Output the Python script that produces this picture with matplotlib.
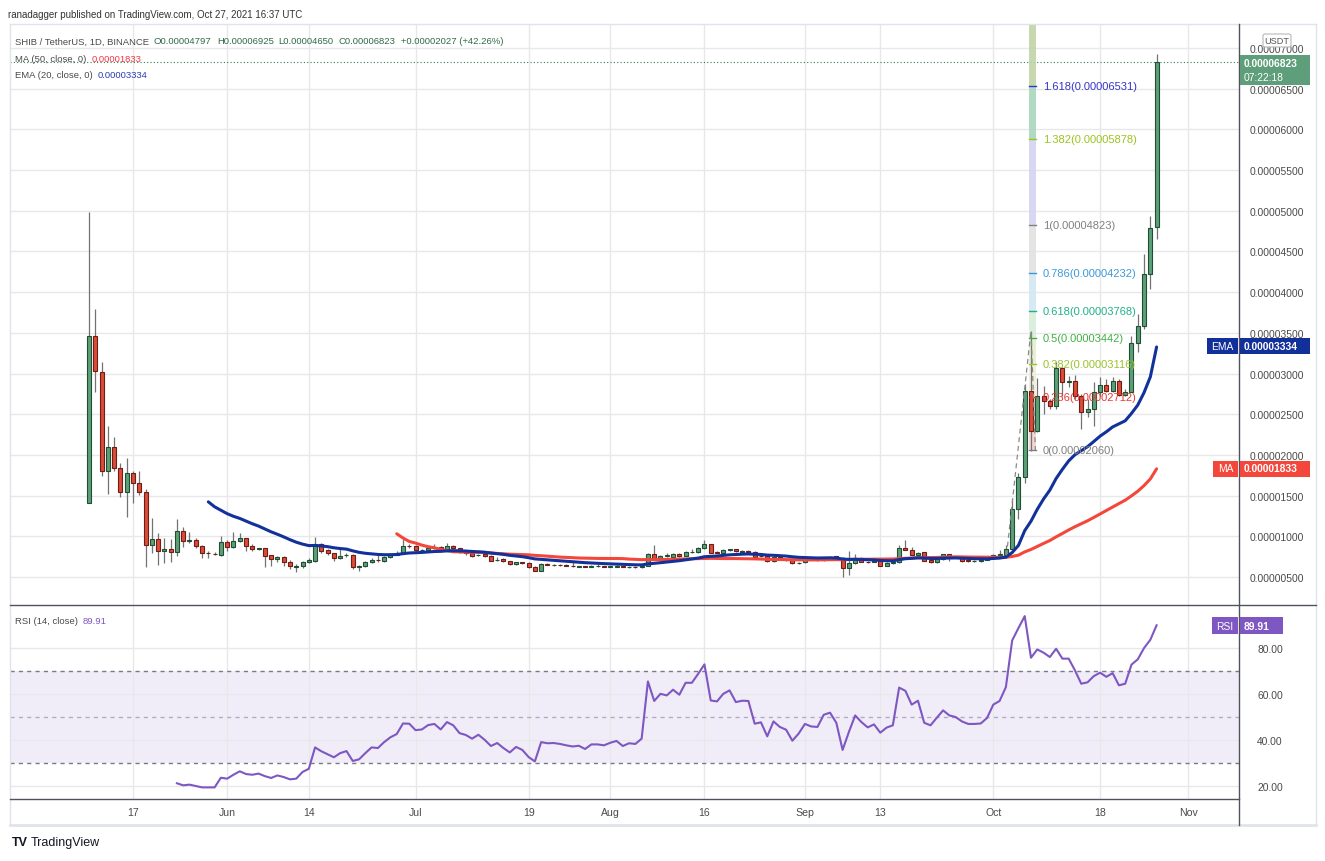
"""SHIB / TetherUS daily chart with MA50, EMA20, fib extension and RSI pane"""
import numpy as np
import pandas as pd
import matplotlib
matplotlib.use('Agg')
import matplotlib.pyplot as plt
from matplotlib.patches import Rectangle, FancyBboxPatch

plt.rcParams['font.family'] = ['Liberation Sans', 'DejaVu Sans']

W, H = 1325, 862

# %% data: daily candles, prices in units of 1e-5 USDT, first bar 2021-05-10
start = pd.Timestamp('2021-05-10')

opens = [1.41, 3.457, 3.02, 1.806, 2.093, 1.835, 1.548, 1.774, 1.651, 1.55,
         0.897, 0.963, 0.815, 0.844, 0.803, 1.061, 0.94, 0.95, 0.877, 0.795,
         0.786, 0.77, 0.926, 0.873, 0.939, 0.975, 0.877, 0.84, 0.853, 0.766,
         0.717, 0.74, 0.69, 0.625, 0.63, 0.68, 0.70, 0.905, 0.83, 0.79,
         0.73, 0.765, 0.775, 0.62, 0.63, 0.68, 0.715, 0.70, 0.742, 0.774,
         0.80, 0.885, 0.877, 0.83, 0.83, 0.86, 0.865, 0.828, 0.877, 0.852,
         0.803, 0.791, 0.770, 0.779, 0.754, 0.708, 0.721, 0.692, 0.655, 0.68,
         0.668, 0.619, 0.578, 0.66, 0.647, 0.652, 0.647, 0.635, 0.628, 0.633,
         0.627, 0.63, 0.632, 0.627, 0.628, 0.634, 0.618, 0.621, 0.624, 0.638,
         0.78, 0.73, 0.76, 0.75, 0.78, 0.762, 0.81, 0.81, 0.852, 0.905,
         0.805, 0.80, 0.832, 0.84, 0.81, 0.815, 0.811, 0.752, 0.754, 0.693,
         0.742, 0.716, 0.71, 0.672, 0.68, 0.716, 0.708, 0.705, 0.742, 0.754,
         0.713, 0.606, 0.668, 0.73, 0.69, 0.69, 0.692, 0.64, 0.67, 0.68,
         0.852, 0.835, 0.774, 0.803, 0.71, 0.68, 0.72, 0.779, 0.75, 0.742,
         0.708, 0.695, 0.695, 0.712, 0.73, 0.77, 0.77, 0.85, 1.34, 1.725,
         2.79, 2.29, 2.72, 2.658, 2.605, 3.068, 2.90, 2.904, 2.728, 2.523,
         2.564, 2.769, 2.859, 2.789, 2.912, 2.74, 2.777, 3.371, 3.588, 4.22,
         4.797]
highs = [4.99, 3.79, 3.14, 2.351, 2.216, 1.897, 1.962, 1.806, 1.798, 1.58,
         1.225, 1.04, 0.975, 0.967, 1.213, 1.11, 1.05, 0.975, 0.897, 0.815,
         0.81, 0.999, 0.95, 1.05, 1.04, 0.98, 0.91, 0.86, 0.86, 0.77,
         0.76, 0.76, 0.71, 0.66, 0.70, 0.73, 0.995, 0.92, 0.84, 0.80,
         0.85, 0.79, 0.78, 0.65, 0.70, 0.73, 0.79, 0.76, 0.79, 0.82,
         0.967, 0.90, 0.89, 0.85, 0.88, 0.90, 0.88, 0.918, 0.89, 0.86,
         0.81, 0.80, 0.785, 0.79, 0.77, 0.74, 0.73, 0.70, 0.69, 0.69,
         0.68, 0.63, 0.675, 0.67, 0.665, 0.66, 0.655, 0.68, 0.64, 0.64,
         0.645, 0.66, 0.64, 0.64, 0.65, 0.64, 0.63, 0.63, 0.65, 0.79,
         0.89, 0.77, 0.79, 0.80, 0.79, 0.815, 0.84, 0.87, 0.95, 0.91,
         0.82, 0.84, 0.85, 0.85, 0.83, 0.83, 0.82, 0.77, 0.76, 0.75,
         0.75, 0.72, 0.72, 0.685, 0.725, 0.725, 0.715, 0.75, 0.755, 0.76,
         0.75, 0.823, 0.78, 0.74, 0.695, 0.70, 0.70, 0.68, 0.69, 0.893,
         0.955, 0.87, 0.81, 0.81, 0.72, 0.725, 0.785, 0.785, 0.76, 0.75,
         0.715, 0.71, 0.72, 0.73, 0.78, 0.83, 0.89, 1.46, 1.78, 2.87,
         3.526, 2.95, 2.85, 2.69, 3.137, 3.076, 2.973, 2.98, 2.75, 2.687,
         2.89, 2.953, 2.932, 2.953, 2.932, 2.81, 3.465, 3.731, 4.47, 4.94,
         6.925]
lows = [1.41, 2.77, 1.744, 1.52, 1.806, 1.487, 1.233, 1.405, 1.511, 0.627,
        0.795, 0.651, 0.668, 0.688, 0.758, 0.873, 0.915, 0.853, 0.733, 0.73,
        0.77, 0.758, 0.823, 0.86, 0.926, 0.823, 0.82, 0.83, 0.627, 0.64,
        0.69, 0.64, 0.60, 0.56, 0.61, 0.67, 0.69, 0.80, 0.77, 0.70,
        0.72, 0.75, 0.60, 0.57, 0.62, 0.67, 0.69, 0.69, 0.73, 0.77,
        0.79, 0.86, 0.82, 0.82, 0.82, 0.85, 0.82, 0.82, 0.845, 0.79,
        0.775, 0.75, 0.76, 0.745, 0.695, 0.70, 0.68, 0.65, 0.65, 0.66,
        0.61, 0.57, 0.575, 0.645, 0.635, 0.64, 0.63, 0.625, 0.62, 0.62,
        0.62, 0.625, 0.62, 0.62, 0.62, 0.62, 0.61, 0.61, 0.615, 0.63,
        0.725, 0.72, 0.75, 0.745, 0.75, 0.755, 0.80, 0.80, 0.845, 0.79,
        0.79, 0.79, 0.82, 0.81, 0.80, 0.80, 0.735, 0.745, 0.685, 0.69,
        0.71, 0.70, 0.655, 0.665, 0.675, 0.705, 0.70, 0.70, 0.735, 0.705,
        0.504, 0.53, 0.66, 0.685, 0.67, 0.68, 0.635, 0.635, 0.665, 0.675,
        0.83, 0.77, 0.765, 0.695, 0.675, 0.675, 0.715, 0.70, 0.735, 0.69,
        0.69, 0.69, 0.69, 0.705, 0.72, 0.76, 0.76, 0.84, 1.21, 1.66,
        2.05, 2.28, 2.50, 2.564, 2.564, 2.728, 2.83, 2.687, 2.318, 2.462,
        2.359, 2.728, 2.769, 2.769, 2.728, 2.728, 2.769, 3.268, 3.55, 4.04,
        4.65]
closes = [3.457, 3.03, 1.806, 2.093, 1.835, 1.548, 1.774, 1.651, 1.548, 0.897,
          0.963, 0.815, 0.844, 0.803, 1.061, 0.939, 0.95, 0.877, 0.791, 0.789,
          0.781, 0.926, 0.873, 0.939, 0.975, 0.877, 0.84, 0.853, 0.758, 0.717,
          0.74, 0.69, 0.63, 0.635, 0.68, 0.71, 0.905, 0.823, 0.79, 0.73,
          0.76, 0.775, 0.62, 0.63, 0.68, 0.715, 0.71, 0.742, 0.774, 0.80,
          0.885, 0.875, 0.83, 0.835, 0.86, 0.87, 0.832, 0.877, 0.852, 0.803,
          0.791, 0.762, 0.775, 0.754, 0.701, 0.713, 0.692, 0.655, 0.68, 0.672,
          0.619, 0.578, 0.66, 0.65, 0.65, 0.645, 0.635, 0.63, 0.633, 0.624,
          0.633, 0.634, 0.627, 0.634, 0.64, 0.627, 0.621, 0.618, 0.64, 0.78,
          0.73, 0.754, 0.765, 0.78, 0.762, 0.81, 0.812, 0.852, 0.905, 0.80,
          0.80, 0.83, 0.84, 0.82, 0.815, 0.807, 0.742, 0.757, 0.693, 0.742,
          0.72, 0.71, 0.667, 0.676, 0.717, 0.712, 0.705, 0.742, 0.745, 0.713,
          0.606, 0.668, 0.73, 0.69, 0.68, 0.692, 0.64, 0.67, 0.684, 0.852,
          0.835, 0.774, 0.80, 0.701, 0.68, 0.72, 0.779, 0.742, 0.745, 0.70,
          0.695, 0.70, 0.714, 0.716, 0.77, 0.78, 0.85, 1.34, 1.725, 2.79,
          2.29, 2.72, 2.658, 2.605, 3.068, 2.89, 2.91, 2.728, 2.523, 2.564,
          2.769, 2.859, 2.789, 2.912, 2.74, 2.777, 3.371, 3.588, 4.22, 4.787,
          6.823]

rsi_start = 14
rsi = [21.2, 20.3, 20.6, 20.0, 19.4, 19.4, 19.4, 23.6, 23.2, 24.9,
       26.4, 25.2, 24.9, 25.4, 24.3, 23.5, 24.6, 23.9, 22.9, 23.2,
       26.1, 27.5, 36.8, 35.1, 33.8, 32.5, 34.3, 35.2, 30.9, 31.6,
       34.3, 36.8, 36.5, 39.1, 41.2, 42.6, 47.2, 47.1, 44.3, 44.6,
       46.5, 47.0, 44.6, 47.8, 46.4, 43.0, 42.2, 40.6, 42.3, 40.1,
       37.4, 38.7, 36.5, 34.6, 37.0, 35.7, 32.6, 30.7, 39.1, 38.6,
       38.7, 38.3, 37.7, 37.2, 37.5, 36.1, 38.1, 38.1, 37.7, 38.8,
       39.6, 37.4, 38.6, 38.3, 40.6, 65.5, 57.0, 60.1,
       59.4, 61.9, 59.7, 64.9, 64.9, 68.8, 72.9, 57.2, 56.8, 60.1,
       61.6, 56.5, 57.1, 57.0, 47.1, 47.7, 41.6, 48.1, 45.7, 44.5,
       39.7, 42.8, 47.0, 45.9, 45.7, 51.0, 51.9, 47.5, 35.7, 43.5,
       50.7, 47.8, 45.5, 46.8, 43.2, 45.4, 46.4, 62.8, 61.4, 55.4,
       57.1, 47.5, 46.4, 49.7, 52.9, 50.7, 50.0, 48.1, 47.0, 47.0,
       47.2, 49.6, 55.4, 57.0, 63.0, 83.3, 88.7, 93.9, 75.8, 79.4,
       78.0, 76.1, 79.7, 75.4, 75.4, 70.3, 64.5, 65.1, 67.8, 69.3,
       67.5, 69.1, 63.8, 64.5, 72.8, 75.1, 80.0, 83.6, 89.91]

tick_dates = ['2021-05-17', '2021-06-01', '2021-06-14', '2021-07-01', '2021-07-19', '2021-08-01',
              '2021-08-16', '2021-09-01', '2021-09-13', '2021-10-01', '2021-10-18', '2021-11-01']
tick_labels = ['17', 'Jun', '14', 'Jul', '19', 'Aug', '16', 'Sep', '13', 'Oct', '18', 'Nov']
price_ticks = [0.5, 1.0, 1.5, 2.0, 2.5, 3.0, 3.5, 4.0, 4.5, 5.0, 5.5, 6.0, 6.5, 7.0]
rsi_ticks = [20, 40, 60, 80]

# fib extension drawn from A (low before the breakout) -> B (Oct 7 high) -> C (pullback low)
fib_ratios = ['0', '0.236', '0.382', '0.5', '0.618', '0.786', '1', '1.382', '1.618']
fib_prices = [2.060, 2.712, 3.116, 3.442, 3.768, 4.232, 4.823, 5.878, 6.531]
fib_points = [(146.1, 0.767), (150.0, 3.526), (150.7, 2.060)]

ma_label, ema_label, rsi_label = '0.00001833', '0.00003334', '89.91'
ma_last, ema_last = 1.833, 3.334

# %% derived series
n = len(closes)
x = np.arange(n)
cl = pd.Series(closes)
ma50 = cl.rolling(50).mean()
ema20 = np.full(n, np.nan)
ema20[19] = cl[:20].mean()
alpha = 2 / 21
for i in range(20, n):
    ema20[i] = alpha * closes[i] + (1 - alpha) * ema20[i - 1]
tick_pos = [(pd.Timestamp(d) - start).days for d in tick_dates]

# %% layout (pixels)
L, R = 10, 1239
T1, B1 = 25, 606
T2, B2 = 607, 800
PXD = 6.28          # pixels per day
X0 = 89             # pixel of first bar

fig = plt.figure(figsize=(W / 100, H / 100), dpi=100)
fig.patch.set_facecolor('white')
ax = fig.add_axes([L / W, (H - B1) / H, (R - L) / W, (B1 - T1) / H])
ax2 = fig.add_axes([L / W, (H - B2) / H, (R - L) / W, (B2 - T2) / H])
xlim = ((L - X0) / PXD, (R - X0) / PXD)

grid_c = '#e8e8ea'
for a in (ax, ax2):
    a.set_xlim(*xlim)
    for s in a.spines.values():
        s.set_visible(False)
    a.set_xticks(tick_pos)
    a.grid(True, color=grid_c, lw=1)
    a.set_axisbelow(True)
    a.yaxis.tick_right()
    a.tick_params(length=0, labelsize=7.4, colors='#4a4a4a')

# main pane
ax.set_ylim(0.156, 7.294)
ax.set_yticks(price_ticks)
ax.set_yticklabels([f'{v * 1e-5:.8f}' for v in price_ticks])
ax.tick_params(axis='y', pad=8)
ax.tick_params(axis='x', labelbottom=False)

up = np.array(closes) >= np.array(opens)
ax.vlines(x, lows, highs, color='#737373', lw=0.9, zorder=2)
body_lo = np.minimum(opens, closes)
body_h = np.abs(np.array(closes) - np.array(opens))
ax.bar(x[up], body_h[up], bottom=body_lo[up], width=0.64, color='#5e9f78',
       edgecolor='#1f4f33', lw=0.8, zorder=3)
ax.bar(x[~up], body_h[~up], bottom=body_lo[~up], width=0.64, color='#dd4b39',
       edgecolor='#6e1e14', lw=0.8, zorder=3)

ax.plot(x, ma50, color='#f4473b', lw=2.2, zorder=4, solid_capstyle='round')
ax.plot(x, ema20, color='#12319a', lw=2.2, zorder=4, solid_capstyle='round')
ax.axhline(closes[-1], color='#2e7d4f', lw=0.8, ls=(0, (1, 2)), zorder=1)

# fib extension band
band_fill = ['#f2d2d1', '#efeed8', '#e3efcf', '#d6eed9', '#d2e7f3', '#e2e2e2', '#d4d4f1', '#a9d6bd', '#c1d3a7']
fib_cols = ['#808080', '#e53935', '#9cc22e', '#43b043', '#22b08a', '#3d9ad6', '#808080', '#9cc31e', '#3535c8']
bx0, bx1 = 149.7, 150.8
levels = fib_prices + [7.294]
for i in range(len(fib_prices)):
    ax.add_patch(Rectangle((bx0, levels[i]), bx1 - bx0, levels[i + 1] - levels[i],
                           facecolor=band_fill[i], edgecolor='none', zorder=1.5, alpha=0.9))
    ax.plot([bx0, bx1], [fib_prices[i], fib_prices[i]], color=fib_cols[i], lw=1, zorder=5)
    ax.text(151.9, fib_prices[i], f'{fib_ratios[i]}({fib_prices[i] * 1e-5:.8f})',
            color=fib_cols[i], fontsize=8, va='center', ha='left', zorder=6)
fx, fy = zip(*fib_points)
ax.plot(fx, fy, color='#8a8a8a', lw=0.9, ls=(0, (4, 3)), zorder=5)

# RSI pane
ax2.set_ylim(14.35, 98.3)
ax2.set_yticks(rsi_ticks)
ax2.set_yticklabels([f'{v:.2f}' for v in rsi_ticks])
ax2.tick_params(axis='y', pad=13)
ax2.set_xticklabels(tick_labels)
ax2.tick_params(axis='x', pad=6, labelsize=7.6)
ax2.axhspan(30, 70, color='#7e57c2', alpha=0.1, lw=0, zorder=0)
ax2.axhline(70, color='#787b86', lw=1, ls=(0, (3, 3)))
ax2.axhline(30, color='#787b86', lw=1, ls=(0, (3, 3)))
ax2.axhline(50, color='#b3abc4', lw=1, ls=(0, (3, 3)))
ax2.plot(np.arange(rsi_start, rsi_start + len(rsi)), rsi, color='#7e57c2', lw=1.5, zorder=4)

# %% overlay in pixel coordinates
ov = fig.add_axes([0, 0, 1, 1])
ov.set_xlim(0, W)
ov.set_ylim(H, 0)
ov.axis('off')
renderer = fig.canvas.get_renderer()


def ypix(a, v):
    return H - a.transData.transform((0, v))[1]


def chain(x0, y, parts, size=6.8, gap=5):
    """write (text, colour) pieces one after another on a line"""
    xp = x0
    for s, c in parts:
        t = ov.text(xp, y, s, fontsize=size, color=c, va='center')
        xp += t.get_window_extent(renderer=renderer).width + gap


frame_c = '#e0e3eb'
ov.plot([L, 1316], [T1, T1], color=frame_c, lw=1)
ov.plot([L, L], [T1, 826], color=frame_c, lw=1)
ov.plot([1316, 1316], [T1, 826], color=frame_c, lw=1)
ov.plot([L, 1316], [826, 826], color=frame_c, lw=2)
ov.plot([R, R], [T1, 826], color='#50535e', lw=1)
ov.plot([L, 1316], [B1, B1], color='#50535e', lw=1)
ov.plot([L, R], [B2, B2], color='#50535e', lw=1)

ov.text(8, 15, 'ranadagger published on TradingView.com, Oct 27, 2021 16:37 UTC',
        fontsize=7.0, color='#333333', va='center')
txt_c, ohlc_c = '#4a4a4a', '#2f6b47'
chain(15, 42, [('SHIB / TetherUS, 1D, BINANCE', txt_c), ('O0.00004797', ohlc_c),
               ('H0.00006925', ohlc_c), ('L0.00004650', ohlc_c), ('C0.00006823', ohlc_c),
               ('+0.00002027 (+42.26%)', ohlc_c)])
chain(15, 59, [('MA (50, close, 0)', txt_c), (ma_label, '#f23645')])
chain(15, 75, [('EMA (20, close, 0)', txt_c), (ema_label, '#2a3db0')])
chain(15, 622, [('RSI (14, close)', txt_c), (rsi_label, '#7e57c2')])

# USDT tag
ov.add_patch(FancyBboxPatch((1263, 35), 28, 13, boxstyle='round,pad=0,rounding_size=2',
                            facecolor='white', edgecolor='#b8b8b8', lw=0.8, zorder=5))
ov.text(1277, 41.5, 'USDT', fontsize=6.6, color='#555555', ha='center', va='center', zorder=6)

# last price badge
yc = ypix(ax, closes[-1])
ov.add_patch(Rectangle((1240, yc - 7), 70, 30, facecolor='#5e9e7a', edgecolor='none', zorder=5))
ov.text(1244, yc + 1, f'{closes[-1] * 1e-5:.8f}', fontsize=7.4, color='white', weight='bold',
        va='center', zorder=6)
ov.text(1244, yc + 15, '07:22:18', fontsize=7.4, color='white', va='center', zorder=6)

# indicator badges
for val, txt, lab, col, lx in [(ema_last, ema_label, 'EMA', '#12309a', 1207),
                               (ma_last, ma_label, 'MA', '#f4473b', 1213)]:
    yb = ypix(ax, val)
    ov.add_patch(Rectangle((lx, yb - 8), 1238 - lx, 16, facecolor=col, edgecolor='none', zorder=5))
    ov.add_patch(Rectangle((1240, yb - 8), 70, 16, facecolor=col, edgecolor='none', zorder=5))
    ov.text((lx + 1238) / 2, yb, lab, fontsize=7.4, color='white', ha='center', va='center', zorder=6)
    ov.text(1244, yb, txt, fontsize=7.4, color='white', weight='bold', va='center', zorder=6)

yr = ypix(ax2, rsi[-1])
ov.add_patch(Rectangle((1212, yr - 8), 26, 17, facecolor='#7e57c2', edgecolor='none', zorder=5))
ov.add_patch(Rectangle((1240, yr - 8), 43, 17, facecolor='#7e57c2', edgecolor='none', zorder=5))
ov.text(1225, yr + 0.5, 'RSI', fontsize=7.4, color='white', ha='center', va='center', zorder=6)
ov.text(1244, yr + 0.5, rsi_label, fontsize=7.4, color='white', weight='bold', va='center', zorder=6)

# footer logo
ov.text(12, 843, 'TV', fontsize=9, color='#131722', weight='bold', va='center')
ov.text(31, 843, 'TradingView', fontsize=9, color='#131722', va='center')

fig.savefig('out.png', dpi=100, facecolor='white')
